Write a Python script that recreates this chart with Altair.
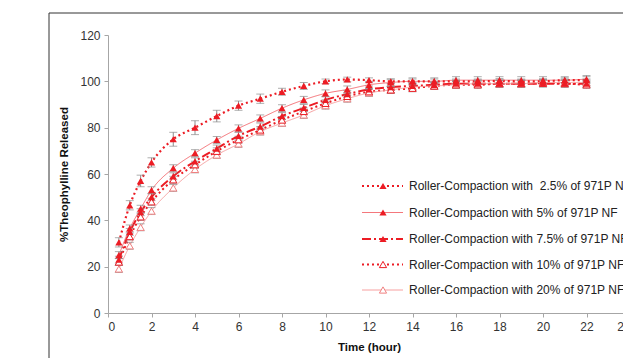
import altair as alt
import pandas as pd

# ---------------- data ----------------
times = [0.5, 1, 1.5, 2, 3, 4, 5, 6, 7, 8, 9, 10, 11, 12, 13, 14, 15, 16, 17, 18, 19, 20, 21, 22]

series_names = [
    "Roller-Compaction with\u00a0 2.5% of 971P NF",
    "Roller-Compaction with 5% of 971P NF",
    "Roller-Compaction with 7.5% of 971P NF",
    "Roller-Compaction with 10% of 971P NF",
    "Roller-Compaction with 20% of 971P NF",
]

s_25 = [30.5, 46.5, 57, 65, 75, 80, 85, 89.5, 92.5, 95.5, 98, 100, 100.8, 100.5, 100, 100, 100, 100, 100, 100.2, 100, 100, 100.5, 100.5]
s_5 = [25, 36.5, 45, 53, 62.5, 69, 74.7, 79.7, 84, 88.4, 92, 94.8, 96.5, 98.5, 99.5, 100, 100, 100.5, 100.5, 100.5, 100.5, 100.5, 100.5, 101]
s_75 = [23, 35, 43.5, 50, 59, 65.5, 71, 76.5, 80.5, 85, 88.5, 92, 94.5, 96.5, 97.5, 98, 98.5, 99, 99, 99, 99, 99, 99, 99]
s_10 = [22, 33, 41.5, 48, 57.5, 64, 69.8, 74.8, 79, 83.3, 87, 90.5, 93.5, 95.5, 96.3, 97, 98, 98.5, 98.5, 99, 99, 99.2, 99, 98.5]
s_20 = [19, 29, 37, 44, 54, 62, 68.2, 73, 78.3, 82, 85.5, 89.5, 92.5, 95, 96.3, 97.5, 98, 98.5, 99, 99, 99, 99.5, 99.5, 99.5]

e_25 = [2, 2, 2.5, 2, 3, 3, 2.5, 2, 2, 1.5, 1.5, 1, 1, 1, 1, 1, 1, 1, 1, 1, 1, 1, 1, 1.5]
e_5 = [1.5, 1.5, 1.5, 1.5, 1.5, 1.5, 1.5, 1.5, 1.5, 1.5, 1.5, 1.5, 1.5, 1.5, 1.5, 1.5, 1.5, 1.5, 1.5, 1.5, 1.5, 1.5, 1.5, 1.5]
e_75 = [1.5, 1.5, 1.5, 1.5, 1.5, 1.5, 1.5, 1.5, 1.5, 1.5, 1.5, 1.5, 1.5, 1.5, 1.5, 1.5, 1.5, 1.5, 1.5, 1.5, 1.5, 1.5, 1.5, 1.5]
e_10 = [1.5, 1.5, 1.5, 1.5, 1.5, 1.5, 1.5, 1.5, 1.5, 1.5, 1.5, 1.5, 1.5, 1.5, 1.5, 1.5, 1.5, 1.5, 1.5, 1.5, 1.5, 1.5, 1.5, 1.5]
e_20 = [1.5, 1.5, 1.5, 1.5, 1.5, 1.5, 1.5, 1.5, 1.5, 1.5, 1.5, 1.5, 1.5, 1.5, 1.5, 1.5, 1.5, 1.5, 1.5, 1.5, 1.5, 1.5, 1.5, 1.5]

x_ticks = [0, 2, 4, 6, 8, 10, 12, 14, 16, 18, 20, 22, 24]
y_ticks = [0, 20, 40, 60, 80, 100, 120]

all_values = [s_25, s_5, s_75, s_10, s_20]
all_errs = [e_25, e_5, e_75, e_10, e_20]

# ---------------- styles ----------------
RED = "#ec1c24"
PINK = "#f7a0a0"
styles = [
    dict(line=RED, dash=[2, 3], width=2.2, opacity=1.0, filled=True, pt=RED),
    dict(line=RED, dash=[1, 0], width=1.0, opacity=0.6, filled=True, pt=RED),
    dict(line=RED, dash=[9, 3, 2, 3], width=2.0, opacity=1.0, filled=True, pt=RED),
    dict(line=RED, dash=[2, 3], width=2.0, opacity=1.0, filled=False, pt=RED),
    dict(line=PINK, dash=[1, 0], width=1.0, opacity=1.0, filled=False, pt="#f08080"),
]

FONT = "Liberation Sans"
PLOT_W = 522
PLOT_H = 278

rows = []
for name, vals, errs in zip(series_names, all_values, all_errs):
    for t, v, e in zip(times, vals, errs):
        rows.append({"series": name, "time": t, "value": v, "lo": v - e, "hi": v + e})
df = pd.DataFrame(rows)

x_enc = alt.X(
    "time:Q",
    scale=alt.Scale(domain=[0, 24], nice=False, zero=True),
    axis=alt.Axis(values=x_ticks, title="Time (hour)", titlePadding=9),
)
y_enc = alt.Y(
    "value:Q",
    scale=alt.Scale(domain=[0, 120], nice=False),
    axis=alt.Axis(values=y_ticks, title="%Theophylline Released", titlePadding=10),
)

layers = []

# chart-area border (Excel style frame)
frame = alt.Chart(pd.DataFrame({"a": [0]})).mark_rect(
    fillOpacity=0, stroke="#333333", strokeWidth=1
).encode(x=alt.value(-59), x2=alt.value(700), y=alt.value(-22), y2=alt.value(500))
layers.append(frame)

# lines
for name, st in zip(series_names, styles):
    sub = df[df["series"] == name]
    layers.append(
        alt.Chart(sub).mark_line(
            interpolate="monotone", color=st["line"], strokeDash=st["dash"],
            strokeWidth=st["width"], opacity=st["opacity"]
        ).encode(x=x_enc, y=y_enc)
    )

# error bars
ERR = "#8c8c8c"
err_base = alt.Chart(df)
layers.append(err_base.mark_rule(color=ERR, strokeWidth=1).encode(x="time:Q", y="lo:Q", y2="hi:Q"))
layers.append(err_base.mark_tick(color=ERR, orient="horizontal", size=8, thickness=1).encode(x="time:Q", y="lo:Q"))
layers.append(err_base.mark_tick(color=ERR, orient="horizontal", size=8, thickness=1).encode(x="time:Q", y="hi:Q"))

# points (draw open ones first so filled are on top)
for name, st in list(zip(series_names, styles))[::-1]:
    sub = df[df["series"] == name]
    if st["filled"]:
        mk = alt.Chart(sub).mark_point(shape="triangle-up", filled=True, color=st["pt"], size=52, opacity=1)
    else:
        mk = alt.Chart(sub).mark_point(shape="triangle-up", filled=False, fill="white", fillOpacity=1,
                                       stroke=st["pt"], strokeWidth=1, size=52, opacity=1)
    layers.append(mk.encode(x=x_enc, y=y_enc))

# manual legend (pixel positions inside plot area)
leg_rows_y = [151, 177.5, 204, 229.5, 255]
leg_x1, leg_x2, leg_mx, leg_tx = 254, 295, 275, 301
one = pd.DataFrame({"a": [0]})
for name, st, yy in zip(series_names, styles, leg_rows_y):
    layers.append(
        alt.Chart(one).mark_rule(color=st["line"], strokeDash=st["dash"], strokeWidth=st["width"], opacity=st["opacity"])
        .encode(x=alt.value(leg_x1), x2=alt.value(leg_x2), y=alt.value(yy))
    )
    if st["filled"]:
        pm = alt.Chart(one).mark_point(shape="triangle-up", filled=True, color=st["pt"], size=52, opacity=1)
    else:
        pm = alt.Chart(one).mark_point(shape="triangle-up", filled=False, fill="white", fillOpacity=1,
                                       stroke=st["pt"], strokeWidth=1, size=52, opacity=1)
    layers.append(pm.encode(x=alt.value(leg_mx), y=alt.value(yy)))
    layers.append(
        alt.Chart(one).mark_text(align="left", baseline="middle", font=FONT, fontSize=12, color="#222222")
        .encode(x=alt.value(leg_tx), y=alt.value(yy), text=alt.value(name))
    )

chart = alt.layer(*layers).properties(
    width=PLOT_W, height=PLOT_H,
    autosize=alt.AutoSizeParams(type="none"),
    padding={"left": 108, "top": 35, "right": -7, "bottom": 45},
    background="white",
).configure_view(stroke=None).configure_axis(
    grid=False,
    domainColor="#a6a6a6",
    tickColor="#a6a6a6",
    tickSize=4,
    labelFont=FONT,
    labelFontSize=12,
    labelColor="#333333",
    labelPadding=4,
    titleFont=FONT,
    titleFontSize=11.5,
    titleFontWeight="bold",
    titleColor="#111111",
)

chart.save("out.html", embed_options={"renderer": "svg", "actions": False})
